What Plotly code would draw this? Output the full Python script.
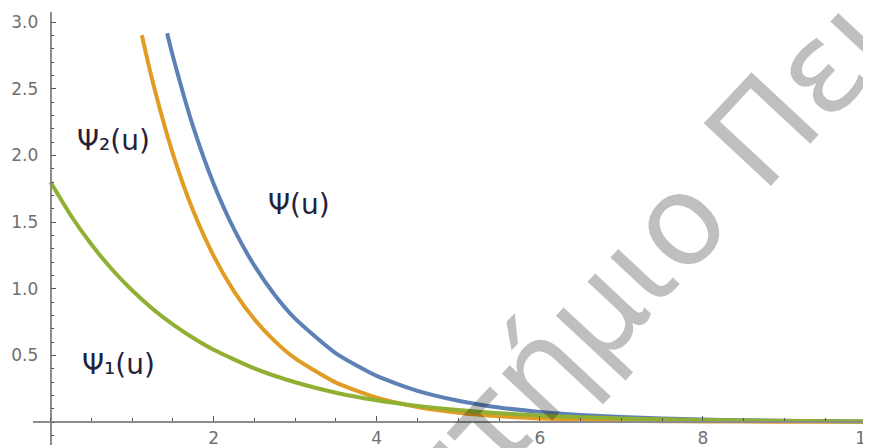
import plotly.graph_objects as go

# ---- data ----
u_psi1 = [0, 0.25, 0.5, 0.75, 1.0, 1.25, 1.5, 1.75, 2.0, 2.5, 3.0, 3.5, 4.0, 4.5,
          5.0, 5.5, 6.0, 6.5, 7.0, 7.5, 8.0, 8.5, 9.0, 9.5, 10.0]
psi1 = [1.800, 1.549, 1.333, 1.148, 0.988, 0.850, 0.732, 0.630, 0.542, 0.402, 0.298,
        0.220, 0.163, 0.121, 0.090, 0.066, 0.049, 0.036, 0.027, 0.020, 0.015, 0.011,
        0.008, 0.006, 0.004]

u_psi2 = [1.12, 1.25, 1.5, 1.75, 2.0, 2.25, 2.5, 2.75, 3.0, 3.5, 4.0, 4.5, 5.0, 5.5,
          6.0, 6.5, 7.0, 7.5, 8.0, 9.0, 10.0]
psi2 = [2.901, 2.560, 2.014, 1.584, 1.246, 0.980, 0.771, 0.607, 0.477, 0.295, 0.183,
        0.113, 0.070, 0.043, 0.027, 0.017, 0.010, 0.006, 0.004, 0.002, 0.001]

u_psi = [1.43, 1.5, 1.75, 2.0, 2.25, 2.5, 2.75, 3.0, 3.5, 4.0, 4.5, 5.0, 5.5, 6.0,
         6.5, 7.0, 7.5, 8.0, 8.5, 9.0, 9.5, 10.0]
psi = [2.917, 2.746, 2.214, 1.788, 1.447, 1.173, 0.953, 0.775, 0.515, 0.346, 0.234,
       0.160, 0.109, 0.076, 0.053, 0.037, 0.026, 0.019, 0.013, 0.0095, 0.007, 0.0045]

x_tickvals = [2, 4, 6, 8, 10]
x_ticktext = ["2", "4", "6", "8", "10"]
y_tickvals = [0.5, 1.0, 1.5, 2.0, 2.5, 3.0]
y_ticktext = ["0.5", "1.0", "1.5", "2.0", "2.5", "3.0"]

labels = ["Ψ₂(u)", "Ψ(u)", "Ψ₁(u)"]
label_x = [0.77, 3.05, 0.83]
label_y = [2.11, 1.63, 0.43]

watermark = "Πανεπιστήμιο Πειραιώς"

# ---- figure ----
BLUE = "#5E81B5"
ORANGE = "#E19C24"
GREEN = "#8FB032"

fig = go.Figure()
fig.add_trace(go.Scatter(x=u_psi, y=psi, mode="lines", name="Ψ(u)",
                         line=dict(color=BLUE, width=4, shape="spline", smoothing=0.6)))
fig.add_trace(go.Scatter(x=u_psi2, y=psi2, mode="lines", name="Ψ₂(u)",
                         line=dict(color=ORANGE, width=4, shape="spline", smoothing=0.6)))
fig.add_trace(go.Scatter(x=u_psi1, y=psi1, mode="lines", name="Ψ₁(u)",
                         line=dict(color=GREEN, width=4, shape="spline", smoothing=0.6)))

for t, xx, yy in zip(labels, label_x, label_y):
    fig.add_annotation(x=xx, y=yy, xref="x", yref="y", text=t, showarrow=False,
                       font=dict(family="DejaVu Sans", size=28, color="#22223a"))

fig.add_annotation(x=7.0, y=1.05, xref="x", yref="y", text=watermark, showarrow=False,
                   textangle=-47,
                   font=dict(family="DejaVu Sans", size=126, color="rgba(0,0,0,0.25)"))

# the page body adds an 8px offset; margins compensate so the axes land in place
x_range = [-0.2146, 10.159]
y_range = [-0.1725, 3.0758]

axis_common = dict(showgrid=False, zeroline=False, showline=True, automargin=False,
                   linecolor="#8c8c8c", linewidth=1.5,
                   ticks="inside", ticklen=5, tickwidth=1, tickcolor="#555555",
                   tickfont=dict(family="DejaVu Sans", size=17, color="#707070"))

fig.update_layout(
    width=871, height=448,
    margin=dict(l=25, r=0, t=4, b=11, autoexpand=False),
    plot_bgcolor="white", paper_bgcolor="white",
    showlegend=False, hovermode=False,
    xaxis=dict(range=x_range, anchor="free",
               position=(0 - y_range[0]) / (y_range[1] - y_range[0]),
               tickmode="array", tickvals=x_tickvals, ticktext=x_ticktext,
               ticklabelstandoff=1,
               minor=dict(tickmode="linear", tick0=0, dtick=0.5, ticks="inside",
                          ticklen=3, tickcolor="#555555"),
               **axis_common),
    yaxis=dict(range=y_range, anchor="free",
               position=(0 - x_range[0]) / (x_range[1] - x_range[0]),
               tickmode="array", tickvals=y_tickvals, ticktext=y_ticktext,
               ticklabelstandoff=8,
               minor=dict(tickmode="linear", tick0=0, dtick=0.1, ticks="inside",
                          ticklen=3, tickcolor="#555555"),
               **axis_common),
)

fig.write_html("out.html")
